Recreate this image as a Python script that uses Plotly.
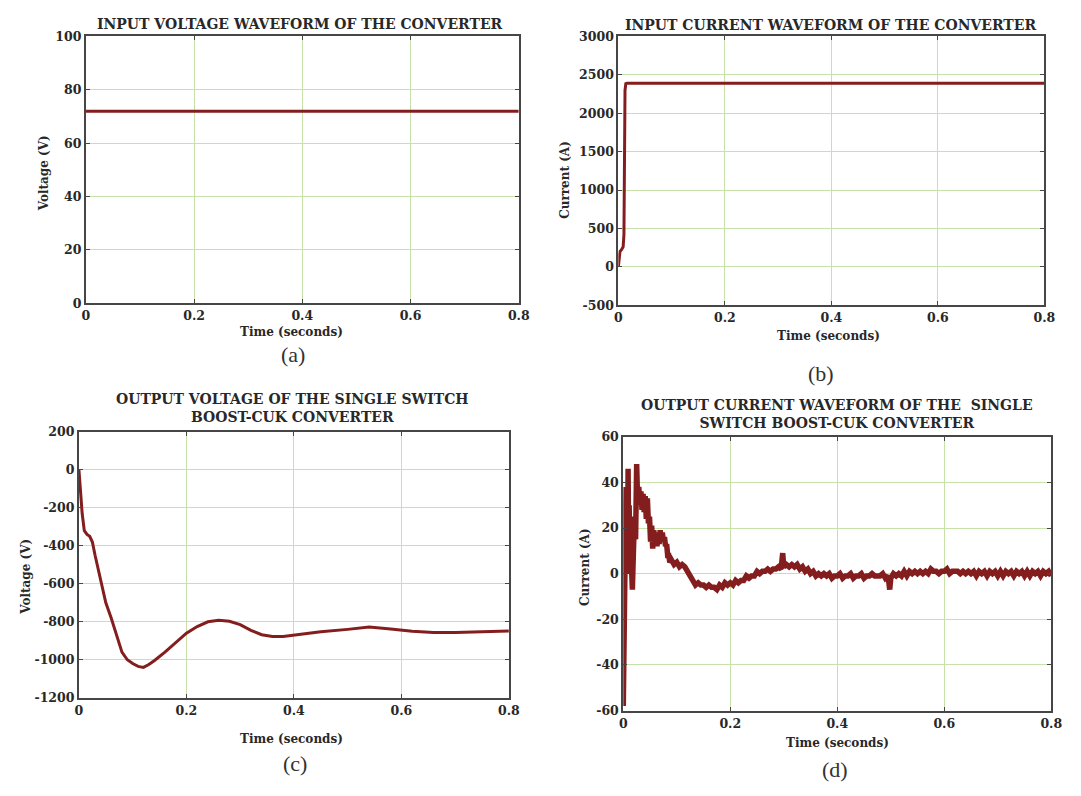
import plotly.graph_objects as go

# ---- data -------------------------------------------------------------
# (a) input voltage
t_vin = [0.0, 0.8]
v_in = [72, 72]

# (b) input current
t_iin = [0.0, 0.001, 0.003, 0.006, 0.009, 0.0105, 0.0115, 0.0125, 0.014, 0.016, 0.8]
i_in = [0, 120, 200, 225, 260, 420, 1500, 2300, 2385, 2390, 2390]

# (c) output voltage of the single switch boost-Cuk converter
t_vout = [0.0, 0.003, 0.006, 0.01, 0.015, 0.02, 0.025, 0.03, 0.04, 0.05, 0.06, 0.07,
          0.08, 0.09, 0.10, 0.11, 0.12, 0.13, 0.14, 0.16, 0.18, 0.20, 0.22, 0.24,
          0.26, 0.28, 0.30, 0.32, 0.34, 0.36, 0.38, 0.40, 0.45, 0.50, 0.54, 0.58,
          0.62, 0.66, 0.70, 0.75, 0.80]
v_out = [0, -120, -230, -320, -340, -350, -380, -450, -580, -700, -780, -870,
         -960, -1000, -1020, -1035, -1040, -1025, -1005, -960, -910, -860, -825, -800,
         -792, -797, -815, -845, -868, -878, -878, -870, -852, -840, -828, -838,
         -850, -856, -857, -853, -848]

# (d) output current of the single switch boost-Cuk converter
t_iout = [0.000, 0.002, 0.003, 0.004, 0.005, 0.006, 0.007, 0.008, 0.009, 0.010,
          0.011, 0.012, 0.013, 0.015, 0.017, 0.019, 0.021, 0.023, 0.025, 0.027,
          0.029, 0.031, 0.033, 0.035, 0.037, 0.039, 0.041, 0.043, 0.045, 0.047,
          0.049, 0.051, 0.053, 0.055, 0.057, 0.059, 0.061, 0.063, 0.065, 0.067,
          0.069, 0.071, 0.073, 0.075, 0.077, 0.079, 0.081, 0.083, 0.085, 0.087,
          0.090, 0.095, 0.100, 0.105, 0.110, 0.115, 0.120, 0.125,
          0.130, 0.135, 0.140, 0.145, 0.150, 0.155, 0.160, 0.165, 0.170, 0.175,
          0.180, 0.185, 0.190, 0.195, 0.200, 0.205, 0.210, 0.215, 0.220, 0.225,
          0.230, 0.235, 0.240, 0.245, 0.250, 0.255, 0.260, 0.265, 0.270, 0.275,
          0.280, 0.285, 0.290, 0.295, 0.298, 0.300, 0.305, 0.310, 0.315, 0.320,
          0.325, 0.330, 0.335, 0.340, 0.345, 0.350, 0.355, 0.360, 0.365, 0.370,
          0.375, 0.380, 0.385, 0.390, 0.395, 0.400, 0.405, 0.410, 0.415, 0.420,
          0.425, 0.430, 0.435, 0.440, 0.445, 0.450, 0.455, 0.460, 0.465, 0.470,
          0.475, 0.480, 0.485, 0.490, 0.495, 0.498, 0.500, 0.505, 0.510, 0.515,
          0.520, 0.525, 0.530, 0.535, 0.540, 0.545, 0.550, 0.555, 0.560, 0.565,
          0.570, 0.575, 0.580, 0.585, 0.590, 0.595, 0.600, 0.605, 0.610, 0.615,
          0.620, 0.625, 0.630, 0.635, 0.640, 0.645, 0.650, 0.655, 0.660, 0.665,
          0.670, 0.675, 0.680, 0.685, 0.690, 0.695, 0.700, 0.705, 0.710, 0.715,
          0.720, 0.725, 0.730, 0.735, 0.740, 0.745, 0.750, 0.755, 0.760, 0.765,
          0.770, 0.775, 0.780, 0.785, 0.790, 0.795, 0.800]
i_out = [-58, -30, 10, 0, 38, 5, 20, 0, 46, 10,
         30, 5, 20, 5, -7, 10, 25, 15, 48, 30,
         38, 31, 36, 28, 35, 27, 34, 24, 33, 22,
         25, 14, 21, 11, 19, 12, 17, 12, 18, 13,
         19, 14, 18, 14, 16, 12, 13, 8, 8, 5,
         6, 4, 5, 3, 4, 3, 1, -2,
         -3, -5, -4, -5, -5, -6, -5, -6, -6, -7,
         -5, -6, -4, -5, -4, -5, -3, -4, -3, -3,
         -1, -2, -1, -1, 1, 0, 1, 1, 2, 1,
         2, 2, 3, 2, 9, 3, 4, 3, 4, 3,
         4, 2, 3, 1, 2, 0, 1, -1, 0, -1,
         0, -1, 0, -2, -1, -1, 0, -2, -1, -1,
         0, -2, -1, -1, 0, -2, -1, -1, 0, -1,
         -1, -1, 0, -2, -1, -7, -2, 0, -1, 0,
         -1, 1, -1, 1, 0, 1, 0, 1, 0, 1,
         0, 2, 1, 1, 0, 1, 1, 2, 0, 1,
         1, 1, 0, 1, 0, 1, 0, 1, -1, 1,
         0, 1, -1, 1, 0, 1, -1, 1, -1, 1,
         0, 1, -1, 1, 0, 1, -1, 1, -1, 1,
         0, 1, -1, 1, 0, 1, -1]

x_ticks = [0, 0.2, 0.4, 0.6, 0.8]
x_tick_text = ["0", "0.2", "0.4", "0.6", "0.8"]

y_ticks_a = [0, 20, 40, 60, 80, 100]
y_ticks_b = [-500, 0, 500, 1000, 1500, 2000, 2500, 3000]
y_ticks_c = [-1200, -1000, -800, -600, -400, -200, 0, 200]
y_ticks_d = [-60, -40, -20, 0, 20, 40, 60]

# ---- styling ----------------------------------------------------------
W, H = 1081, 796
LINE = "rgb(132,30,30)"
GRID = "rgb(200,224,170)"
FRAME = "rgb(70,70,70)"
SERIF = "DejaVu Serif"
TXT = "rgb(40,40,40)"


def dom_x(a, b):
    return [a / W, b / W]


def dom_y(top, bottom):
    return [1 - bottom / H, 1 - top / H]


def hyphen_labels(vals):
    # plain ASCII hyphen for negative numbers
    return [str(v) for v in vals]


# pixel boxes of the four plot areas: (left, right, top, bottom)
boxes = {
    "a": (83, 522, 29, 301),
    "b": (623, 1055, 29, 303),
    "c": (76, 512, 432, 703),
    "d": (628, 1062, 437, 716),
}

fig = go.Figure()

series = [
    ("a", t_vin, v_in, 3),
    ("b", t_iin, i_in, 3),
    ("c", t_vout, v_out, 3),
    ("d", t_iout, i_out, 5.5),
]
for k, (name, tx, ty, lw) in enumerate(series):
    suffix = "" if k == 0 else str(k + 1)
    fig.add_trace(go.Scatter(x=tx, y=ty, mode="lines",
                             line=dict(color=LINE, width=lw),
                             xaxis="x" + suffix, yaxis="y" + suffix,
                             showlegend=False, hoverinfo="skip"))

y_specs = {
    "a": dict(range=[0, 100], tickvals=y_ticks_a),
    "b": dict(range=[-500, 3000], tickvals=y_ticks_b),
    "c": dict(range=[-1200, 200], tickvals=y_ticks_c),
    "d": dict(range=[-60, 60], tickvals=y_ticks_d),
}

tick_font = dict(family=SERIF, size=12.5, color=TXT, weight="bold")
axis_common = dict(showline=True, mirror="ticks", linecolor=FRAME, linewidth=2,
                   showgrid=True, gridcolor=GRID, gridwidth=1, zeroline=False,
                   ticks="inside", ticklen=4, tickcolor=FRAME, tickwidth=1,
                   tickfont=tick_font)

layout = dict(width=W, height=H, margin=dict(l=0, r=0, t=0, b=0),
              paper_bgcolor="white", plot_bgcolor="white", showlegend=False)

for k, key in enumerate(["a", "b", "c", "d"]):
    l, r, t, b = boxes[key]
    suffix = "" if k == 0 else str(k + 1)
    layout["xaxis" + suffix] = dict(domain=dom_x(l, r), range=[0, 0.8],
                                    tickvals=x_ticks, ticktext=x_tick_text,
                                    anchor="y" + suffix, **axis_common)
    ys = y_specs[key]
    layout["yaxis" + suffix] = dict(domain=dom_y(t, b), range=ys["range"],
                                    tickvals=ys["tickvals"],
                                    ticktext=hyphen_labels(ys["tickvals"]),
                                    anchor="x" + suffix, **axis_common)

fig.update_layout(**layout)

# ---- titles, axis labels and panel captions ---------------------------
title_font = dict(family=SERIF, size=14, color=TXT, weight="bold")
label_font = dict(family=SERIF, size=12, color=TXT, weight="bold")
cap_font = dict(family="Liberation Serif", size=22, color="rgb(50,50,50)")


def note(text, x, y, font, angle=0):
    fig.add_annotation(text=text, x=x / W, y=1 - y / H, xref="paper", yref="paper",
                       showarrow=False, font=font, textangle=angle,
                       xanchor="center", yanchor="middle")


note("INPUT VOLTAGE WAVEFORM OF THE CONVERTER", 300, 16, title_font)
note("INPUT CURRENT WAVEFORM OF THE CONVERTER", 838, 17, title_font)
note("OUTPUT VOLTAGE OF THE SINGLE SWITCH<br>BOOST-CUK CONVERTER", 293, 408, title_font)
note("OUTPUT CURRENT WAVEFORM OF THE  SINGLE<br>SWITCH BOOST-CUK CONVERTER", 845, 414, title_font)

note("Voltage (V)", 40, 168, label_font, -90)
note("Current (A)", 569, 175, label_font, -90)
note("Voltage (V)", 22, 580, label_font, -90)
note("Current (A)", 589, 570, label_font, -90)

note("Time (seconds)", 292, 330, label_font)
note("Time (seconds)", 836, 334, label_font)
note("Time (seconds)", 292, 745, label_font)
note("Time (seconds)", 845, 749, label_font)

note("(a)", 293, 353, cap_font)
note("(b)", 829, 373, cap_font)
note("(c)", 295, 770, cap_font)
note("(d)", 843, 776, cap_font)

fig.write_html("out.html")
